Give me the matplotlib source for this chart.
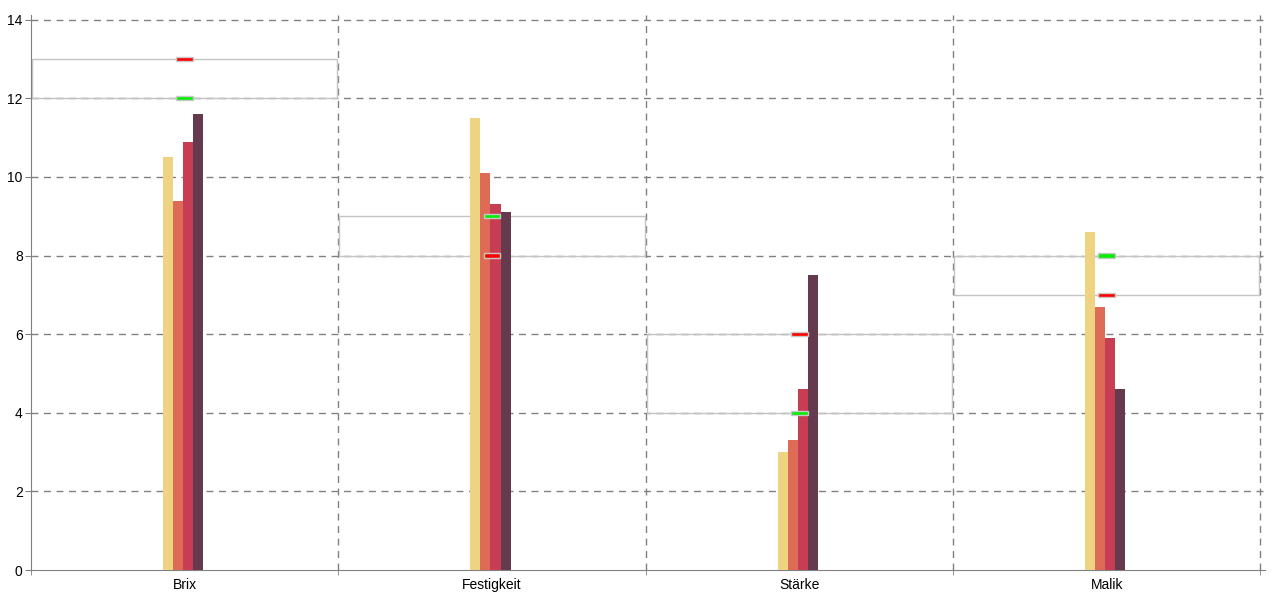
import matplotlib.pyplot as plt
import numpy as np

categories = ["Brix", "Festigkeit", "Stärke", "Malik"]
series1 = [10.5, 11.5, 3.0, 8.6]
series2 = [9.4, 10.1, 3.3, 6.7]
series3 = [10.9, 9.3, 4.6, 5.9]
series4 = [11.6, 9.1, 7.5, 4.6]
green_marks = [12, 9, 4, 8]
red_marks = [13, 8, 6, 7]

colors = ["#EDD382", "#DE6B55", "#C63D54", "#653A4F"]
grey = "#808080"

plt.rcParams['font.family'] = ['Liberation Sans', 'DejaVu Sans']

fig = plt.figure(figsize=(12.8, 6), dpi=100)
ax = fig.add_axes([31 / 1280, 30 / 600, 1234 / 1280, 555 / 600])

x = np.arange(len(categories))
w = 0.0326
for i, s in enumerate([series1, series2, series3, series4]):
    ax.bar(x - 1.5 * w + i * w - 0.005, s, width=w, color=colors[i], zorder=3)

# target ranges as light boxes
low = np.minimum(green_marks, red_marks)
high = np.maximum(green_marks, red_marks)
ax.bar(x, high - low, bottom=low, width=0.993, fill=False,
       edgecolor="#c4c4c4", linewidth=1, zorder=2)

# markers
mh = 0.11
ax.bar(x, mh, bottom=np.array(green_marks) - mh / 2, width=0.055, color="#00ee00",
       edgecolor="#c8c8c8", linewidth=1, zorder=4)
ax.bar(x, mh, bottom=np.array(red_marks) - mh / 2, width=0.055, color="#ff0000",
       edgecolor="#c8c8c8", linewidth=1, zorder=4)

ax.set_xlim(-0.5, 3.515)
ax.set_ylim(0, 14.12)
ax.set_yticks(range(0, 15, 2))
ax.set_xticks(x)
ax.set_xticklabels(categories)
ax.set_xticks([0.5, 1.5, 2.5, 3.5, -0.5], minor=True)
ax.tick_params(axis='x', which='major', length=0, pad=6, labelsize=10)
ax.tick_params(axis='x', which='minor', length=7, color=grey, direction='inout')
ax.tick_params(axis='y', length=4, color=grey, labelsize=10, pad=2)

for y in range(2, 15, 2):
    ax.axhline(y, color=grey, linestyle=(0, (5, 4)), linewidth=1, zorder=1)
for xv in [0.5, 1.5, 2.5, 3.5]:
    ax.axvline(xv, color=grey, linestyle=(0, (5, 4)), linewidth=1, zorder=1)

for side in ['top', 'right']:
    ax.spines[side].set_visible(False)
for side in ['left', 'bottom']:
    ax.spines[side].set_color(grey)

plt.savefig('out.png')
